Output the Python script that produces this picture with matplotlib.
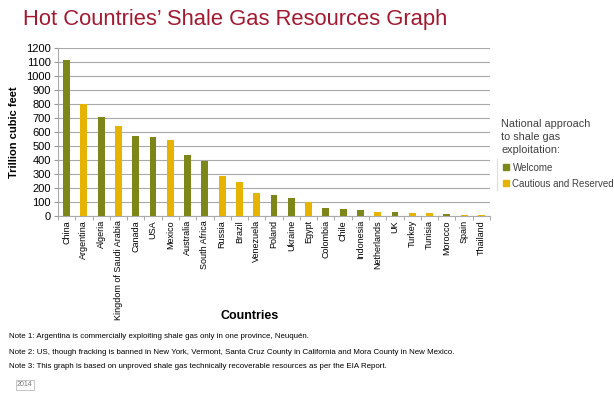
import matplotlib.pyplot as plt
import numpy as np
from matplotlib.patches import Patch

# Shale gas resources (trillion cubic feet)
countries = ['China', 'Argentina', 'Algeria', 'Kingdom of Saudi Arabia', 'Canada', 'USA',
             'Mexico', 'Australia', 'South Africa', 'Russia', 'Brazil', 'Venezuela',
             'Poland', 'Ukraine', 'Egypt', 'Colombia', 'Chile', 'Indonesia',
             'Netherlands', 'UK', 'Turkey', 'Tunisia', 'Morocco', 'Spain', 'Thailand']
values = [1115, 802, 707, 645, 573, 567, 545, 437, 390, 285, 245, 167,
          148, 128, 100, 55, 48, 46, 26, 26, 24, 23, 12, 8, 5]
# W = Welcome, C = Cautious and Reserved
approach = ['W', 'C', 'W', 'C', 'W', 'W', 'C', 'W', 'W', 'C', 'C', 'C',
            'W', 'W', 'C', 'W', 'W', 'W', 'C', 'W', 'C', 'C', 'W', 'C', 'C']

green = '#7d8618'
gold = '#e6b300'
colors = [green if a == 'W' else gold for a in approach]

plt.rcParams['font.family'] = 'Liberation Sans'

fig = plt.figure(figsize=(6.14, 3.94), dpi=100)
ax = fig.add_axes([58/614, 1-216/394, 432/614, 168/394])

x = np.arange(len(countries))
ax.bar(x, values, width=0.4, color=colors, zorder=3)

ax.set_xlim(-0.5, len(countries) - 0.5)
ax.set_ylim(0, 1200)
ax.set_yticks(np.arange(0, 1201, 100))
ax.tick_params(axis='y', labelsize=8, length=3, color='#999999', pad=2)
ax.grid(axis='y', color='#a8a8a8', linewidth=0.8, zorder=0)

ax.set_xticks(x)
ax.set_xticklabels(countries, rotation=90, fontsize=6.5)
ax.tick_params(axis='x', length=0, pad=3)
ax.set_xticks(np.arange(-0.5, len(countries), 1), minor=True)
ax.tick_params(axis='x', which='minor', length=3, color='#999999')

for side in ['top', 'right']:
    ax.spines[side].set_visible(False)
ax.spines['left'].set_color('#aaaaaa')
ax.spines['bottom'].set_color('#aaaaaa')

ax.set_ylabel('Trillion cubic feet', fontsize=8, fontweight='bold', labelpad=5)
fig.text(250/614, 1-316/394, 'Countries', fontsize=9, fontweight='bold', ha='center', va='center')

fig.text(23/614, 1-20/394, 'Hot Countries\u2019 Shale Gas Resources Graph', fontsize=15.8,
         color='#a3192f', va='center', ha='left')

# legend
fig.text(501/614, 1-137/394, 'National approach\nto shale gas\nexploitation:', fontsize=7.8,
         color='#404040', va='center', ha='left', linespacing=1.35)
handles = [Patch(color=green, label='Welcome'), Patch(color=gold, label='Cautious and Reserved')]
leg = fig.legend(handles=handles, loc='upper left', bbox_to_anchor=(494/614, 1-154/394),
                 fontsize=7, frameon=False, handlelength=0.6, handleheight=0.6,
                 handletextpad=0.4, labelspacing=0.6)
for t in leg.get_texts():
    t.set_color('#404040')
fig.add_artist(plt.Line2D([497/614, 497/614], [1-159/394, 1-190/394], color='#dddddd', lw=0.8))

notes = ['Note 1: Argentina is commercially exploiting shale gas only in one province, Neuqu\u00e9n.',
         'Note 2: US, though fracking is banned in New York, Vermont, Santa Cruz County in California and Mora County in New Mexico.',
         'Note 3: This graph is based on unproved shale gas technically recoverable resources as per the EIA Report.']
for i, n in enumerate(notes):
    fig.text(9/614, 1-(337 + 15*i)/394, n, fontsize=5.7, va='center', ha='left')

fig.text(17/614, 1-385/394, '2014', fontsize=5, color='#777777', va='center', ha='left',
         bbox=dict(boxstyle='square,pad=0.2', fc='white', ec='#bbbbbb', lw=0.6))

fig.savefig('out.png', dpi=100)
